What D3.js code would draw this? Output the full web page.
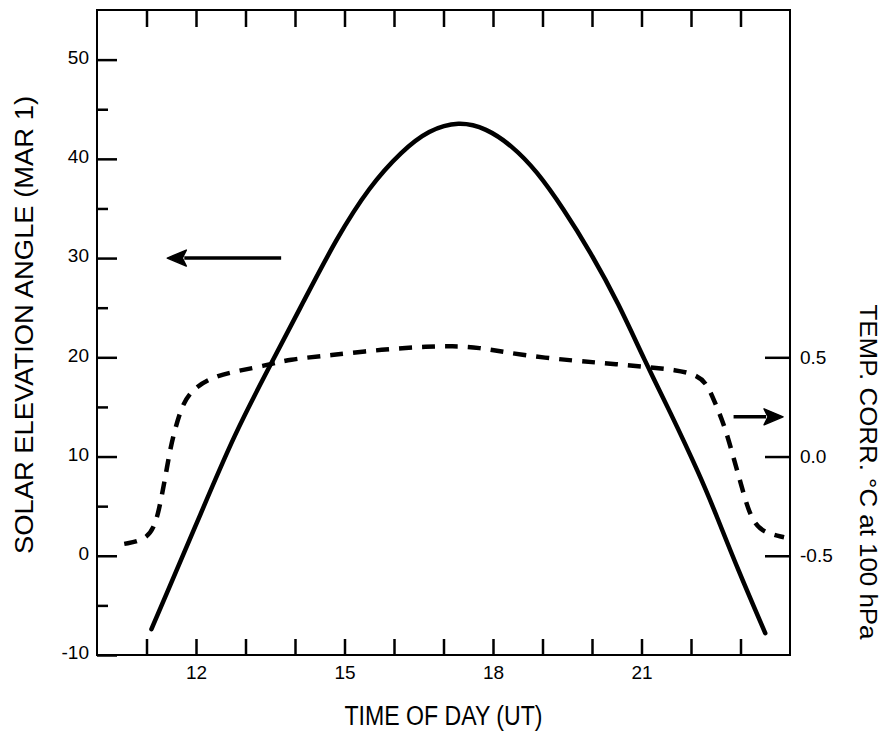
<!DOCTYPE html>
<html>
<head>
<meta charset="utf-8">
<script src="https://d3js.org/d3.v7.min.js"></script>
<style>
  html, body { margin: 0; padding: 0; background: #fff; }
  svg { display: block; font-family: "Liberation Sans", Arial, sans-serif; }
</style>
</head>
<body>
<svg id="chart"></svg>
<script>
// Solar elevation angle (deg, left axis) vs. time of day (UT)
const elevHours = [11.1, 11.33, 12.11, 12.77, 13.51, 14.17, 14.84, 15.5, 16.16, 16.7, 17.31,
  17.86, 18.39, 18.88, 19.42, 19.97, 20.53, 21.07, 21.56, 22.19, 22.52, 22.94, 23.5];
const elevValues = [-7.4, -4.7, 4.4, 12.2, 19.3, 25.6, 32.0, 37.2, 40.8, 42.9, 43.8,
  43.1, 41.3, 38.8, 35.0, 30.6, 25.5, 19.6, 14.7, 8.0, 4.0, -1.3, -7.8];

// Temperature correction at 100 hPa (deg C, right axis)
const corrHours = [10.55, 10.98, 11.18, 11.3, 11.39, 11.48, 11.58, 11.72, 11.93, 12.33, 12.8,
  13.35, 13.88, 14.7, 15.77, 16.72, 17.18, 17.65, 18.58, 19.62, 20.54, 21.12, 21.69,
  22.1, 22.32, 22.49, 22.68, 22.85, 23.0, 23.13, 23.27, 23.47, 23.88];
const corrValues = [-0.44, -0.42, -0.35, -0.21, -0.09, 0.04, 0.14, 0.26, 0.34, 0.4, 0.43,
  0.455, 0.49, 0.51, 0.54, 0.555, 0.556, 0.553, 0.51, 0.483, 0.465, 0.45, 0.437,
  0.413, 0.369, 0.269, 0.153, 0.003, -0.13, -0.248, -0.333, -0.383, -0.407];

const hourTicks = [11, 12, 13, 14, 15, 16, 17, 18, 19, 20, 21, 22, 23];
const hourLabels = [12, 15, 18, 21];
const elevMajor = [-10, 0, 10, 20, 30, 40, 50];
const elevMinor = [-5, 5, 15, 25, 35, 45];
const corrTicks = [-0.5, 0.0, 0.5];

const config = {
  width: 882,
  height: 732,
  margin: { top: 10, right: 92, bottom: 77, left: 97 },
};

const svg = d3.select("#chart")
  .attr("width", config.width)
  .attr("height", config.height);

const innerW = config.width - config.margin.left - config.margin.right;
const innerH = config.height - config.margin.top - config.margin.bottom;

const chart = svg.append("g")
  .attr("transform", `translate(${config.margin.left},${config.margin.top})`);

// scales
const x = d3.scaleLinear().domain([10, 24]).range([0, innerW]);
const yL = d3.scaleLinear().domain([-10, 55]).range([innerH, 0]);
const yR = d3.scaleLinear().domain([-1, 2.25]).range([innerH, 0]);

// frame
chart.append("rect")
  .attr("width", innerW)
  .attr("height", innerH)
  .attr("fill", "none")
  .attr("stroke", "#000")
  .attr("stroke-width", 2);

function styleAxis(g) {
  g.select(".domain").remove();
  g.selectAll(".tick line").attr("stroke", "#000").attr("stroke-width", 2.5);
  g.selectAll("text").attr("fill", "#000").style("font-size", "19px");
}

// left axis
chart.append("g")
  .call(d3.axisLeft(yL).tickValues(elevMajor).tickSize(-20).tickPadding(8)
    .tickFormat(d => String(d)))
  .call(styleAxis)
  .selectAll("text").attr("dy", "0.2em");

chart.append("g")
  .call(d3.axisLeft(yL).tickValues(elevMinor).tickSize(-11).tickFormat(""))
  .call(styleAxis);

// right axis
chart.append("g")
  .attr("transform", `translate(${innerW},0)`)
  .call(d3.axisRight(yR).tickValues(corrTicks).tickSize(-25).tickPadding(10)
    .tickFormat(d => d.toFixed(1)))
  .call(styleAxis);

// bottom axis
chart.append("g")
  .attr("transform", `translate(0,${innerH})`)
  .call(d3.axisBottom(x).tickValues(hourTicks).tickSize(-16).tickPadding(11)
    .tickFormat(d => hourLabels.includes(d) ? d : ""))
  .call(styleAxis);

// top axis
chart.append("g")
  .call(d3.axisTop(x).tickValues(hourTicks).tickSize(-17).tickFormat(""))
  .call(styleAxis);

// curves
const elevLine = d3.line()
  .x((d, i) => x(elevHours[i]))
  .y(d => yL(d))
  .curve(d3.curveBasis);

chart.append("path")
  .datum(elevValues)
  .attr("d", elevLine)
  .attr("fill", "none")
  .attr("stroke", "#000")
  .attr("stroke-width", 4.5)
  .attr("stroke-linecap", "round");

const corrLine = d3.line()
  .x((d, i) => x(corrHours[i]))
  .y(d => yR(d))
  .curve(d3.curveBasis);

chart.append("path")
  .datum(corrValues)
  .attr("d", corrLine)
  .attr("fill", "none")
  .attr("stroke", "#000")
  .attr("stroke-width", 4.5)
  .attr("stroke-dasharray", "13,10");

// arrows pointing at the axis each curve belongs to
function arrow(x0, x1, yPos, dir) {
  const tip = x1;
  const base = tip - dir * 19;
  chart.append("line")
    .attr("x1", x0).attr("x2", base + dir * 2)
    .attr("y1", yPos).attr("y2", yPos)
    .attr("stroke", "#000")
    .attr("stroke-width", 3.5);
  chart.append("path")
    .attr("d", `M${tip},${yPos}L${base},${yPos - 8}L${base + dir * 4},${yPos}L${base},${yPos + 8}Z`)
    .attr("fill", "#000")
    .attr("stroke", "#000")
    .attr("stroke-width", 1.5)
    .attr("stroke-linejoin", "round");
}
arrow(x(13.72), x(11.42), yL(30), -1);
arrow(x(22.86), x(23.86), yR(0.2), 1);

// axis titles
svg.append("text")
  .attr("transform", `translate(${config.margin.left + x(17)},${config.height - 7})`)
  .attr("text-anchor", "middle")
  .attr("textLength", 198)
  .attr("lengthAdjust", "spacingAndGlyphs")
  .style("font-size", "27px")
  .text("TIME OF DAY (UT)");

svg.append("text")
  .attr("transform", "translate(33,325) rotate(-90)")
  .attr("text-anchor", "middle")
  .attr("textLength", 458)
  .attr("lengthAdjust", "spacingAndGlyphs")
  .style("font-size", "25px")
  .text("SOLAR ELEVATION ANGLE (MAR  1)");

svg.append("text")
  .attr("transform", "translate(860,472) rotate(90)")
  .attr("text-anchor", "middle")
  .attr("textLength", 335)
  .attr("lengthAdjust", "spacingAndGlyphs")
  .style("font-size", "23px")
  .text("TEMP. CORR. °C  at  100 hPa");
</script>
</body>
</html>
